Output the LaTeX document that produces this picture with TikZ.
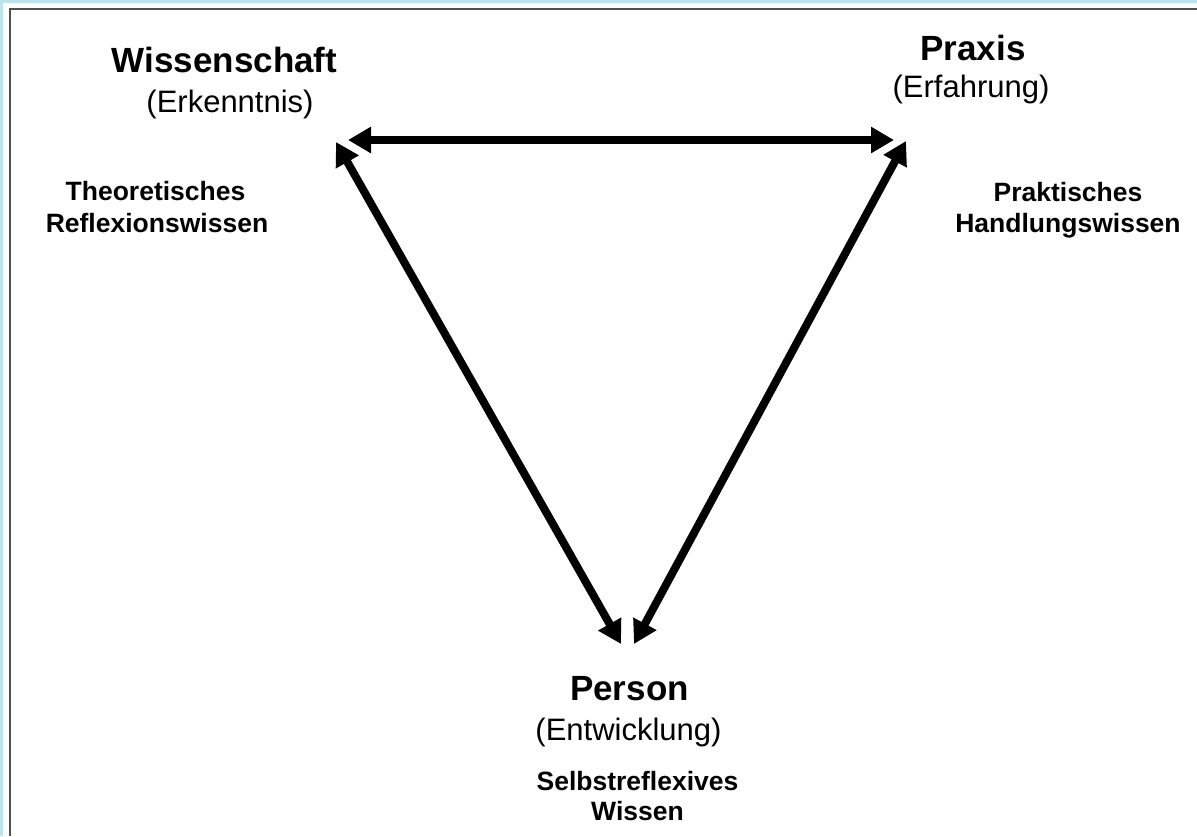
\documentclass[tikz,border=0pt]{standalone}
\usepackage{fontspec}
\setmainfont{Liberation Sans}
\usetikzlibrary{arrows.meta}
\definecolor{frameblue}{HTML}{BFE3EC}
\definecolor{framegray}{HTML}{505050}
\tikzset{
  title/.style={anchor=base, inner sep=0pt, font=\fontsize{35}{40}\selectfont\bfseries},
  subtitle/.style={anchor=base, inner sep=0pt, font=\fontsize{31}{36}\selectfont},
  knowledge/.style={anchor=base, inner sep=0pt, font=\fontsize{26.5}{32}\selectfont\bfseries},
  link/.style={line width=8pt, {Triangle[length=23pt,width=25pt]}-{Triangle[length=23pt,width=25pt]}}
}
\begin{document}
\begin{tikzpicture}[x=1pt,y=-1pt]
\useasboundingbox (0,0) rectangle (1197,836);
\fill[frameblue] (0,0) rectangle (1197,836);
\fill[white] (3,3) rectangle (1197,836);
\draw[framegray, line width=2pt] (9.5,836) -- (9.5,8.5) -- (1197,8.5);

% labels
\node[title] (wiss) at (224.5,72) {Wissenschaft};
\node[subtitle] (erk) at (230,112) {(Erkenntnis)};
\node[knowledge] (theo1) at (155.5,200) {Theoretisches};
\node[knowledge] (theo2) at (157,232) {Reflexionswissen};

\node[title] (praxis) at (973,60) {Praxis};
\node[subtitle] (erf) at (971,97) {(Erfahrung)};
\node[knowledge] (prak1) at (1068,201) {Praktisches};
\node[knowledge] (prak2) at (1068,232) {Handlungswissen};

\node[title] (person) at (629.5,700) {Person};
\node[subtitle] (entw) at (628.5,740) {(Entwicklung)};
\node[knowledge] (selbst1) at (637.5,790) {Selbstreflexives};
\node[knowledge] (selbst2) at (637.5,820) {Wissen};

% arrow end points
\coordinate (WH) at (348,140);
\coordinate (PH) at (894,140);
\coordinate (WD) at (336,142);
\coordinate (PD) at (906,141);
\coordinate (EL) at (621,644);
\coordinate (ER) at (634,644);

\draw[link] (WH) -- (PH);
\draw[link] (WD) -- (EL);
\draw[link] (PD) -- (ER);
\end{tikzpicture}
\end{document}
